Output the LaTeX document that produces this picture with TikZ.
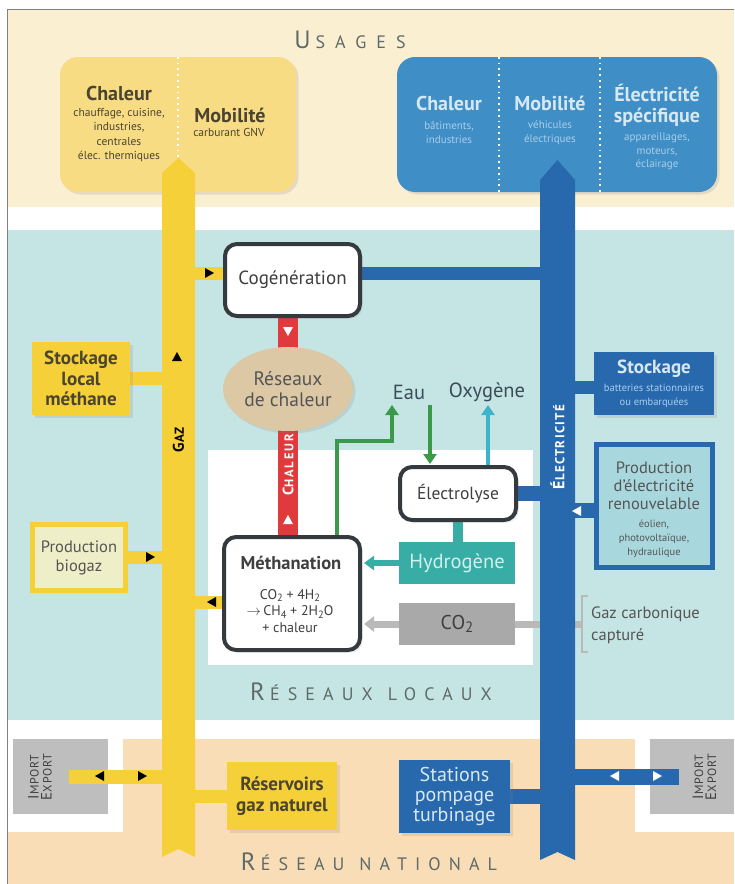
\documentclass[tikz,border=0pt]{standalone}
\usepackage{fontspec}
\setmainfont{PT Sans}
\usetikzlibrary{arrows.meta,shapes.geometric,shadows}
\definecolor{cream}{HTML}{FBEFD2}
\definecolor{teal0}{HTML}{C5E5E4}
\definecolor{peach}{HTML}{F8DDB6}
\definecolor{gazY}{HTML}{F6D038}
\definecolor{usY}{HTML}{F8DC84}
\definecolor{usB}{HTML}{3F8FC6}
\definecolor{elB}{HTML}{2869AD}
\definecolor{redP}{HTML}{E03A3C}
\definecolor{tanE}{HTML}{DCC8A4}
\definecolor{grn}{HTML}{3A9A4A}
\definecolor{cyn}{HTML}{40B3CC}
\definecolor{hyd}{HTML}{38ADA5}
\definecolor{co2g}{HTML}{A9A9A9}
\definecolor{co2l}{HTML}{B9B9B9}
\definecolor{impg}{HTML}{BEBEBE}
\definecolor{bord}{HTML}{353A3F}
\definecolor{txt}{HTML}{3F3F3F}
\definecolor{txtg}{HTML}{555555}
\definecolor{yTxt}{HTML}{4A4430}
\definecolor{ltB}{HTML}{D6E8F5}
\definecolor{ltB2}{HTML}{A9CDEA}
\definecolor{palebio}{HTML}{EEEFC8}
\definecolor{prodfill}{HTML}{A8D8DE}
\definecolor{titleg}{HTML}{5F6A6A}
\definecolor{hydT}{HTML}{D2EFEC}
\definecolor{eauT}{HTML}{3B4C58}
\pgfdeclarelayer{back}
\pgfdeclarelayer{mid}
\pgfsetlayers{back,mid,main}
\newcommand\SC[4]{{\fontsize{#1}{#1}\selectfont #3}{\fontsize{#2}{#2}\selectfont #4}}
\newcommand\TSC[2]{{\fontsize{25}{25}\selectfont #1}\hspace{5pt}{\fontsize{18}{18}\selectfont #2}}
\newcommand\wsp{\hspace{15pt}}
\newcommand\subs[1]{\raisebox{-2.3pt}{\fontsize{10.5}{10.5}\selectfont #1}}
\newcommand\tri[4]{\fill[#4,shift={(#1,#2)},rotate=#3] (5pt,0pt) -- (-4pt,5pt) -- (-4pt,-5pt) -- cycle;}
\begin{document}
\begin{tikzpicture}[x=1pt,y=-1pt,
 lbl/.style={inner sep=0pt, align=center},
 shad/.style={drop shadow={opacity=0.18, shadow xshift=2.5pt, shadow yshift=-2.5pt}},
 proc/.style={draw=bord, line width=4pt, fill=white, rounded corners=12pt, inner sep=0pt, align=center, text=txt, font=\fontsize{19}{21}\selectfont},
 ybox/.style={fill=gazY, inner sep=0pt, align=center, text=yTxt, font=\bfseries\fontsize{19}{20.5}\selectfont},
 bbox/.style={fill=elB, inner sep=0pt, align=center, text=ltB, font=\fontsize{20}{20}\selectfont},
 usebox/.style={rounded corners=18pt, inner sep=0pt},
 ystub/.style={draw=gazY, line width=13pt},
 bstub/.style={draw=elB, line width=13pt},
 garrow/.style={draw=grn, line width=4.5pt, -{Triangle[width=13pt,length=10pt]}},
 carrow/.style={draw=cyn, line width=4.5pt, -{Triangle[width=13pt,length=10pt]}},
 tarrow/.style={draw=hyd, line width=6pt, -{Triangle[width=14pt,length=10pt]}},
 grarrow/.style={draw=co2l, line width=7pt, -{Triangle[width=15pt,length=10pt]}},
 utitle/.style={lbl, text=yTxt, font=\bfseries\fontsize{20}{21}\selectfont},
 usub/.style={lbl, text=yTxt, font=\fontsize{11.5}{14.5}\selectfont},
 btitle/.style={lbl, text=ltB, font=\bfseries\fontsize{20}{21.5}\selectfont},
 bsub/.style={lbl, text=ltB2, font=\fontsize{11}{14.5}\selectfont},
 bigcap/.style={lbl, text=titleg, font=\addfontfeatures{LetterSpace=45}}
]
\useasboundingbox (0,0) rectangle (734,884);
% ---------- background bands ----------
\begin{pgfonlayer}{back}
\fill[white] (0,0) rectangle (734,884);
\fill[cream] (7,10) rectangle (734,207);
\fill[teal0] (7,230) rectangle (734,720);
\fill[peach] (7,739) rectangle (734,884);
\fill[white] (7,720) rectangle (123,832);
\fill[white] (635,720) rectangle (734,832);
\fill[white] (208,450) rectangle (533,665);
\draw[gray, line width=1pt] (7,884) -- (7,9) -- (734,9);
\node[fill=impg, inner sep=0pt, minimum width=95pt, minimum height=75pt] (impL) at (60.5,776.5) {};
\node[fill=impg, inner sep=0pt, minimum width=84pt, minimum height=75pt] (impR) at (692,776.5) {};
\end{pgfonlayer}
% ---------- coordinates of the two main pipes ----------
\coordinate (gazL) at (162,0);
\coordinate (gazR) at (195,0);
\coordinate (gazC) at (178.5,0);
\coordinate (elL) at (540,0);
\coordinate (elR) at (575,0);
\coordinate (elC) at (557.5,0);
% ---------- titles ----------
\node[bigcap, font=\addfontfeatures{LetterSpace=56}] (usT) at (350,40) {\TSC{U}{SAGES}};
\node[bigcap] (rlT) at (371,692) {\TSC{R}{ÉSEAUX\wsp LOCAUX}};
\node[bigcap] (rnT) at (369,862) {\TSC{R}{ÉSEAU\wsp NATIONAL}};
% ---------- usage boxes ----------
\node[usebox, shad, fill=usY, minimum width=236pt, minimum height=135pt] (usYb) at (178,124.5) {};
\node[usebox, shad, fill=usB, minimum width=320pt, minimum height=135pt] (usBb) at (557,124.5) {};
\coordinate (divB1) at (499,0);
\coordinate (divB2) at (600,0);
\draw[white, line width=1.8pt, dash pattern=on 1.8pt off 4pt] (usYb.north) -- (178,165);
\draw[white, line width=1.8pt, dash pattern=on 1.8pt off 4pt] (usBb.north -| divB1) -- (usBb.south -| divB1);
\draw[white, line width=1.8pt, dash pattern=on 1.8pt off 4pt] (usBb.north -| divB2) -- (usBb.south -| divB2);
\node[utitle] (chY) at (119,93) {Chaleur};
\node[usub] (chYs) at (119,135) {chauffage, cuisine,\\industries,\\centrales\\élec. thermiques};
\node[utitle] (moY) at (230,115) {Mobilité};
\node[usub] (moYs) at (229,132) {carburant GNV};
\node[btitle] (chB) at (449,103) {Chaleur};
\node[bsub] (chBs) at (449,132.5) {bâtiments,\\industries};
\node[btitle] (moB) at (550,103) {Mobilité};
\node[bsub] (moBs) at (550,132.5) {véhicules\\électriques};
\node[btitle] (spB) at (657,105.5) {Électricité\\spécifique};
\node[bsub, font=\fontsize{11}{13.5}\selectfont] (spBs) at (657,151.5) {appareillages,\\moteurs,\\éclairage};
% ---------- process nodes ----------
\node[proc, shad, minimum width=135pt, minimum height=72pt] (cog) at (292.5,280) {Cogénération};
\node[ellipse, fill=tanE, shad, minimum width=130pt, minimum height=84pt, inner sep=0pt, align=center, text=txtg, font=\fontsize{19.5}{21}\selectfont] (reseau) at (288,389) {Réseaux\\de chaleur};
\node[proc, shad, minimum width=116pt, minimum height=53pt, font=\fontsize{17.5}{19}\selectfont] (elec) at (458,493.5) {Électrolyse};
\node[proc, shad, minimum width=136pt, minimum height=113pt] (methan) at (292,593.5) {};
\node[lbl, text=txt, font=\bfseries\fontsize{18.5}{19}\selectfont] (methT) at (291,563) {Méthanation};
\node[lbl, text=txt, font=\fontsize{14}{16.5}\selectfont] (methF) at (290,611) {CO\subs{2} + 4H\subs{2}\\$\rightarrow$\,CH\subs{4} + 2H\subs{2}O\\+ chaleur};
\node[fill=hyd, inner sep=0pt, minimum width=116pt, minimum height=42pt, text=hydT, font=\fontsize{20.5}{20}\selectfont] (hydro) at (457,563) {Hydrogène};
\node[fill=co2g, inner sep=0pt, minimum width=116pt, minimum height=42pt, text=txt, font=\fontsize{20}{22}\selectfont] (co2) at (457,624) {CO\raisebox{-3pt}{\fontsize{15}{15}\selectfont 2}};
\node[lbl, text=eauT, font=\fontsize{20.5}{20}\selectfont] (eauT) at (409,392) {Eau};
\node[lbl, text=eauT, font=\fontsize{20.5}{20}\selectfont] (oxyT) at (487,392) {Oxygène};
\coordinate (eauUp) at (392,405);
\coordinate (eauDn) at (430,405);
\coordinate (oxyUp) at (488,405);
% ---------- gas side boxes ----------
\node[ybox, shad, minimum width=98pt, minimum height=73pt] (stockloc) at (81,378.5) {Stockage\\local\\méthane};
\node[fill=palebio, draw=gazY, line width=5pt, shad, inner sep=0pt, minimum width=93pt, minimum height=66pt, align=center, text=txtg, font=\fontsize{16.5}{19}\selectfont] (biogaz) at (79,557.5) {Production\\biogaz};
\node[ybox, shad, minimum width=110pt, minimum height=68pt] (reserv) at (282,796) {Réservoirs\\gaz naturel};
% ---------- electricity side boxes ----------
\node[bbox, shad, minimum width=120pt, minimum height=63pt] (stockel) at (654,383.5) {};
\node[lbl, text=ltB, font=\bfseries\fontsize{19}{19}\selectfont] (stT) at (654,369) {Stockage};
\node[lbl, text=ltB2, font=\fontsize{10.5}{14}\selectfont] (stS) at (654,395.5) {batteries stationnaires\\ou embarquées};
\node[fill=prodfill, draw=elB, line width=5pt, shad, inner sep=0pt, minimum width=116pt, minimum height=123pt] (prodel) at (654.5,506) {};
\node[lbl, text=txtg, font=\fontsize{16.5}{18}\selectfont] (prodT) at (654,486) {Production\\d'électricité\\renouvelable};
\node[lbl, text=txtg, font=\fontsize{10.5}{14}\selectfont] (prodS) at (654,539) {éolien,\\photovoltaïque,\\hydraulique};
\node[bbox, shad, minimum width=111pt, minimum height=73pt] (stations) at (454.5,796.5) {Stations\\pompage\\turbinage};
\node[lbl, anchor=west, align=left, text=txtg, font=\fontsize{16.5}{22}\selectfont] (gazcT) at (591,625) {Gaz carbonique\\capturé};
\coordinate (brkT) at (582,596);
\coordinate (brkB) at (582,652);
\coordinate (brkM) at (582,624);
% import / export labels
\node[lbl, rotate=90, text=txt, font=\addfontfeatures{LetterSpace=6}] (impLt) at (40,777) {\SC{15}{12}{I}{MPORT}\\[1pt]\SC{15}{12}{E}{XPORT}};
\node[lbl, rotate=90, text=txt, font=\addfontfeatures{LetterSpace=6}] (impRt) at (704.5,777) {\SC{15}{12}{I}{MPORT}\\[1pt]\SC{15}{12}{E}{XPORT}};
% ---------- connectors (under the nodes) ----------
\begin{pgfonlayer}{mid}
\draw[ystub] ([yshift=7pt]cog.center) -- ([yshift=7pt]cog.center -| gazC);
\draw[ystub] (stockloc.center) -- (stockloc.center -| gazC);
\draw[ystub] (biogaz.center) -- (biogaz.center -| gazC);
\draw[ystub] ([yshift=-8.5pt]methan.center) -- ([yshift=-8.5pt]methan.center -| gazC);
\draw[ystub] (reserv.center) -- (reserv.center -| gazC);
\draw[ystub, line width=14pt] ([xshift=8pt]impL.center) -- (impL.center -| gazC);
\draw[bstub] ([yshift=7pt]cog.center) -- ([yshift=7pt]cog.center -| elC);
\draw[bstub] ([yshift=-3.5pt]stockel.center) -- ([yshift=-3.5pt]stockel.center -| elC);
\draw[bstub, line width=15pt] (elec.center) -- (elec.center -| elC);
\draw[bstub, line width=15pt] ([yshift=-4pt]prodel.center) -- ([yshift=-4pt]prodel.center -| elC);
\draw[bstub, line width=15pt] (stations.center) -- (stations.center -| elC);
\draw[bstub, line width=16pt] ([xshift=-13pt]impR.center) -- (impR.center -| elC);
\draw[hyd, line width=10pt] (elec.center) -- (elec.center |- hydro.center);
\draw[redP, line width=20pt] (reseau.center |- cog.center) -- (reseau.center |- methan.center);
\draw[garrow] ([xshift=45pt]methan.north) -- ++(0,-94) -| (eauUp);
\draw[garrow, shorten >=1pt] (eauDn) -- (eauDn |- elec.north);
\draw[carrow] ([xshift=30pt]elec.north) -- (oxyUp);
\draw[tarrow] (hydro.west) -- ([xshift=2pt]methan.east |- hydro.west);
\draw[grarrow] (co2.west) -- ([xshift=2pt]methan.east |- co2.west);
\draw[co2l, line width=7pt] (co2.east) -- (brkM);
\draw[co2l, line width=1.3pt] ([xshift=6pt]brkT) -- (brkT) -- (brkB) -- ([xshift=6pt]brkB);
\end{pgfonlayer}
% ---------- main pipes ----------
\fill[gazY] (162,173) -- (178.5,158) -- (195,173) -- (195,857) -- (178.5,849) -- (162,857) -- cycle;
\fill[elB] (540,180) -- (557.5,160) -- (575,180) -- (575,860) -- (557.5,852) -- (540,860) -- cycle;
\node[lbl, rotate=90, text=black, font=\bfseries\addfontfeatures{LetterSpace=6}] (gazT) at (178.5,440) {\SC{15.5}{13}{G}{AZ}};
\node[lbl, rotate=90, text=white, font=\bfseries\addfontfeatures{LetterSpace=10}] (elT) at (557.5,447) {\SC{16}{13}{É}{LECTRICITÉ}};
\node[lbl, rotate=90, text=white, font=\bfseries\addfontfeatures{LetterSpace=14}] (chalT) at (288,465) {\SC{15}{12.5}{C}{HALEUR}};
% ---------- small direction marks ----------
\tri{209}{273}{0}{black}
\tri{177}{357}{90}{black}
\tri{150}{557}{0}{black}
\tri{212}{602}{180}{black}
\tri{100}{776}{180}{black}
\tri{142}{776}{0}{black}
\tri{288}{331}{-90}{white}
\tri{288}{520}{90}{white}
\tri{577}{511}{180}{white}
\tri{615}{776}{180}{white}
\tri{657}{776}{0}{white}
\end{tikzpicture}
\end{document}
